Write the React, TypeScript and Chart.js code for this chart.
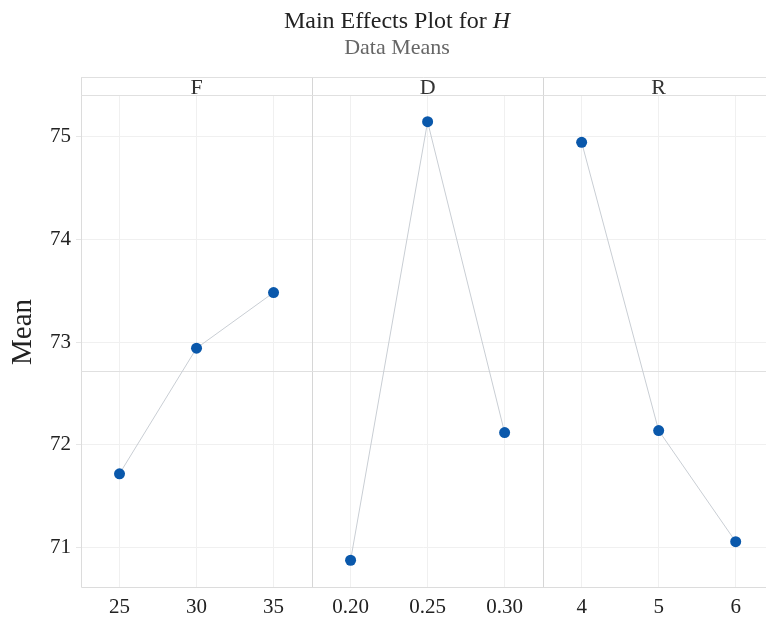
import React, { useEffect, useRef } from "react";
import { Chart, registerables } from "chart.js";

Chart.register(...registerables);

const panelNames = ["F", "D", "R"];
const fLevels = ["25", "30", "35"];
const fMeans = [71.72, 72.94, 73.48];
const dLevels = ["0.20", "0.25", "0.30"];
const dMeans = [70.88, 75.14, 72.12];
const rLevels = ["4", "5", "6"];
const rMeans = [74.94, 72.14, 71.06];
const yTicks = [71, 72, 73, 74, 75];
const yTitle = "Mean";

const means = [fMeans, dMeans, rMeans];
const allLabels = [...fLevels, ...dLevels, ...rLevels];
const allMeans = [...fMeans, ...dMeans, ...rMeans];
const grandMean = allMeans.reduce((a, b) => a + b, 0) / allMeans.length;

const FONT = "'Liberation Serif', 'Times New Roman', serif";
const X_MAX = 8.9;

const overlayPlugin = {
  id: "overlay",
  beforeDatasetsDraw(chart: any) {
    const { ctx, chartArea, scales } = chart;
    const x = scales.x;
    const stripTop = chartArea.top - 19;
    ctx.save();
    // panel dividers
    ctx.strokeStyle = "#d6d6d6";
    ctx.lineWidth = 1;
    [3, 6].forEach((v) => {
      const px = Math.round(x.getPixelForValue(v)) + 0.5;
      ctx.beginPath();
      ctx.moveTo(px, stripTop);
      ctx.lineTo(px, chartArea.bottom);
      ctx.stroke();
    });
    // left and bottom border
    ctx.strokeStyle = "#dcdcdc";
    ctx.beginPath();
    ctx.moveTo(chartArea.left + 0.5, stripTop);
    ctx.lineTo(chartArea.left + 0.5, chartArea.bottom + 0.5);
    ctx.lineTo(chartArea.right, chartArea.bottom + 0.5);
    ctx.stroke();
    // strip header
    ctx.strokeStyle = "#e0e0e0";
    ctx.beginPath();
    ctx.moveTo(chartArea.left, stripTop + 0.5);
    ctx.lineTo(chartArea.right, stripTop + 0.5);
    ctx.moveTo(chartArea.left, chartArea.top - 0.5);
    ctx.lineTo(chartArea.right, chartArea.top - 0.5);
    ctx.stroke();
    ctx.fillStyle = "#333333";
    ctx.font = `22px ${FONT}`;
    ctx.textAlign = "center";
    ctx.textBaseline = "alphabetic";
    panelNames.forEach((n, i) => {
      ctx.fillText(n, x.getPixelForValue(i * 3 + 1.5), stripTop + 17);
    });
    // title
    const t1 = "Main Effects Plot for ";
    const t2 = "H";
    ctx.font = `24px ${FONT}`;
    const w1 = ctx.measureText(t1).width;
    ctx.font = `italic 24px ${FONT}`;
    const w2 = ctx.measureText(t2).width;
    const cx = 397;
    const sx = cx - (w1 + w2) / 2;
    ctx.textAlign = "left";
    ctx.fillStyle = "#222222";
    ctx.font = `24px ${FONT}`;
    ctx.fillText(t1, sx, 28);
    ctx.font = `italic 24px ${FONT}`;
    ctx.fillText(t2, sx + w1, 28);
    ctx.fillStyle = "#666666";
    ctx.font = `22px ${FONT}`;
    ctx.textAlign = "center";
    ctx.fillText("Data Means", cx, 54);
    // y axis title
    ctx.translate(23, 332);
    ctx.rotate(-Math.PI / 2);
    ctx.fillStyle = "#222222";
    ctx.font = `29px ${FONT}`;
    ctx.textAlign = "center";
    ctx.textBaseline = "middle";
    ctx.fillText(yTitle, 0, 0);
    ctx.restore();
  },
};

export default function App() {
  const ref = useRef<HTMLCanvasElement>(null);
  useEffect(() => {
    if (!ref.current) return;
    const datasets: any[] = means.map((arr, p) => ({
      data: arr.map((v, i) => ({ x: p * 3 + i + 0.5, y: v })),
      borderColor: "#c9ced4",
      borderWidth: 1,
      pointBackgroundColor: "#0a58ab",
      pointBorderColor: "#0a58ab",
      pointRadius: 5.5,
      pointBorderWidth: 0,
      showLine: true,
      order: 1,
    }));
    datasets.push({
      data: [
        { x: 0, y: grandMean },
        { x: X_MAX, y: grandMean },
      ],
      borderColor: "#e0e0e0",
      borderWidth: 1,
      pointRadius: 0,
      showLine: true,
      order: 2,
    });
    const chart = new Chart(ref.current, {
      type: "scatter",
      data: { datasets },
      plugins: [overlayPlugin],
      options: {
        animation: false,
        responsive: false,
        layout: { padding: { top: 96, left: 0, right: 0, bottom: 0 } },
        plugins: { legend: { display: false }, tooltip: { enabled: false }, title: { display: false } },
        scales: {
          x: {
            type: "linear",
            min: 0,
            max: X_MAX,
            border: { display: false },
            grid: { color: "#f0f0f0", drawTicks: false },
            afterBuildTicks: (scale: any) => {
              scale.ticks = allLabels.map((_, i) => ({ value: i + 0.5 }));
            },
            afterFit: (scale: any) => {
              scale.height = 32;
            },
            ticks: {
              padding: 8,
              color: "#222222",
              font: { family: FONT, size: 21 },
              maxRotation: 0,
              autoSkip: false,
              callback: (v: any) => allLabels[Math.floor(Number(v))] ?? "",
            },
          },
          y: {
            min: 70.62,
            max: 75.39,
            border: { display: false },
            grid: { color: "#f0f0f0", drawTicks: true, tickLength: 5, tickColor: "#e6e6e6" },
            afterBuildTicks: (scale: any) => {
              scale.ticks = yTicks.map((v) => ({ value: v }));
            },
            afterFit: (scale: any) => {
              scale.width = 81;
            },
            ticks: {
              padding: 5,
              color: "#222222",
              font: { family: FONT, size: 21 },
            },
            title: { display: false },
          },
        },
      },
    });
    return () => chart.destroy();
  }, []);
  return (
    <div style={{ position: "fixed", left: 0, top: 0, width: 766, height: 619, overflow: "hidden", background: "#fff" }}>
      <canvas ref={ref} width={772} height={619} />
    </div>
  );
}
